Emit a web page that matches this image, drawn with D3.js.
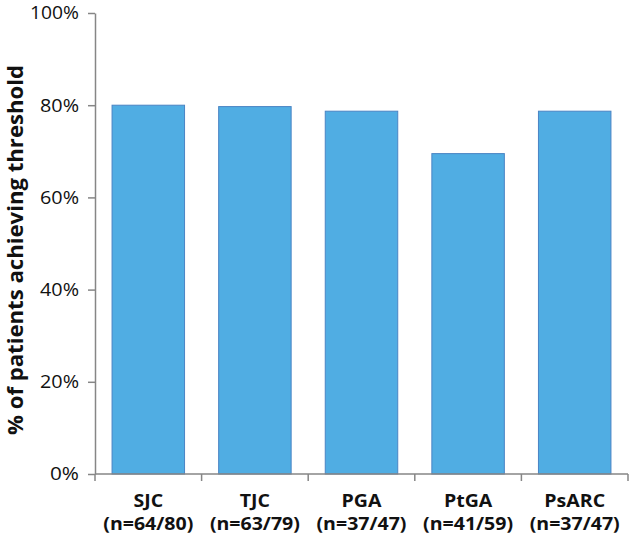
<!DOCTYPE html>
<html><head><meta charset="utf-8">
<script src="https://cdn.jsdelivr.net/npm/d3@7"></script>
<style>body{margin:0;background:#fff}</style>
</head><body>
<svg id="c" width="633" height="541"></svg>
<script>
const categories = ["SJC","TJC","PGA","PtGA","PsARC"];
const counts = ["(n=64/80)","(n=63/79)","(n=37/47)","(n=41/59)","(n=37/47)"];
const values = [80.0, 79.7, 78.7, 69.5, 78.7];
const yTicks = [0,20,40,60,80,100];

const svg = d3.select("#c");
const m = {left:95, right:5, top:13, bottom:67};
const W = 633, H = 541;
const x = d3.scaleBand().domain(categories).range([m.left, W - m.right]).paddingInner(0.32).paddingOuter(0.16);
const y = d3.scaleLinear().domain([0,100]).range([H - m.bottom, m.top]);
const font = "'Open Sans', sans-serif";
const axisColor = "#868686";

function stretch(sel, k) {
  sel.each(function() {
    const len = this.getComputedTextLength();
    d3.select(this).attr("textLength", len * k).attr("lengthAdjust", "spacingAndGlyphs");
  });
}

// bars
svg.append("g").selectAll("rect").data(values).join("rect")
  .attr("x", (d,i) => x(categories[i]))
  .attr("width", x.bandwidth())
  .attr("y", d => y(d))
  .attr("height", d => y(0) - y(d))
  .attr("fill", "#50ade3")
  .attr("stroke", "#4a84c4")
  .attr("stroke-width", 1);

// y axis
const ya = svg.append("g").attr("transform", `translate(${m.left},0)`)
  .call(d3.axisLeft(y).tickValues(yTicks).tickFormat(d => d + "%").tickSize(7).tickSizeOuter(0));
ya.select(".domain").attr("stroke", axisColor).attr("stroke-width", 1.5);
ya.selectAll(".tick line").attr("stroke", axisColor).attr("stroke-width", 1.5);
const yt = ya.selectAll(".tick text").attr("font-family", font).attr("font-size", 18.5).attr("fill", "#111").attr("x", -16);
yt.each(function(d) {
  const w = String(d).length * 10 + 19;
  d3.select(this).attr("textLength", w).attr("lengthAdjust", "spacingAndGlyphs");
});

// x axis
const xa = svg.append("g").attr("transform", `translate(0,${y(0)})`);
xa.append("line").attr("x1", m.left).attr("x2", W - m.right).attr("y1", 0).attr("y2", 0)
  .attr("stroke", axisColor).attr("stroke-width", 1.5);
const step = x.step();
const bounds = categories.map(c => x(c) - (step - x.bandwidth())/2);
bounds.push(W - m.right);
xa.selectAll("line.t").data(bounds).join("line").attr("class","t")
  .attr("x1", d => d).attr("x2", d => d).attr("y1", 0).attr("y2", 7)
  .attr("stroke", axisColor).attr("stroke-width", 1.5);
const l1 = xa.selectAll("text.c").data(categories).join("text").attr("class","c")
  .attr("x", d => x(d) + x.bandwidth()/2).attr("y", 33)
  .attr("text-anchor", "middle")
  .attr("font-family", font).attr("font-weight", "bold").attr("font-size", 17).attr("fill", "#111")
  .text(d => d);
const l2 = xa.selectAll("text.n").data(counts).join("text").attr("class","n")
  .attr("x", (d,i) => x(categories[i]) + x.bandwidth()/2).attr("y", 56)
  .attr("text-anchor", "middle")
  .attr("font-family", font).attr("font-weight", "bold").attr("font-size", 17).attr("fill", "#111")
  .text(d => d);
const k2 = 90 / l2.node().getComputedTextLength();
stretch(l1, k2);
stretch(l2, k2);

// y title
const t = svg.append("text")
  .attr("transform", `translate(23,250) rotate(-90)`)
  .attr("text-anchor", "middle")
  .attr("font-family", font).attr("font-weight", "bold").attr("font-size", 21.5).attr("fill", "#111")
  .text("% of patients achieving threshold");
stretch(t, 370 / t.node().getComputedTextLength());
</script>
</body></html>
